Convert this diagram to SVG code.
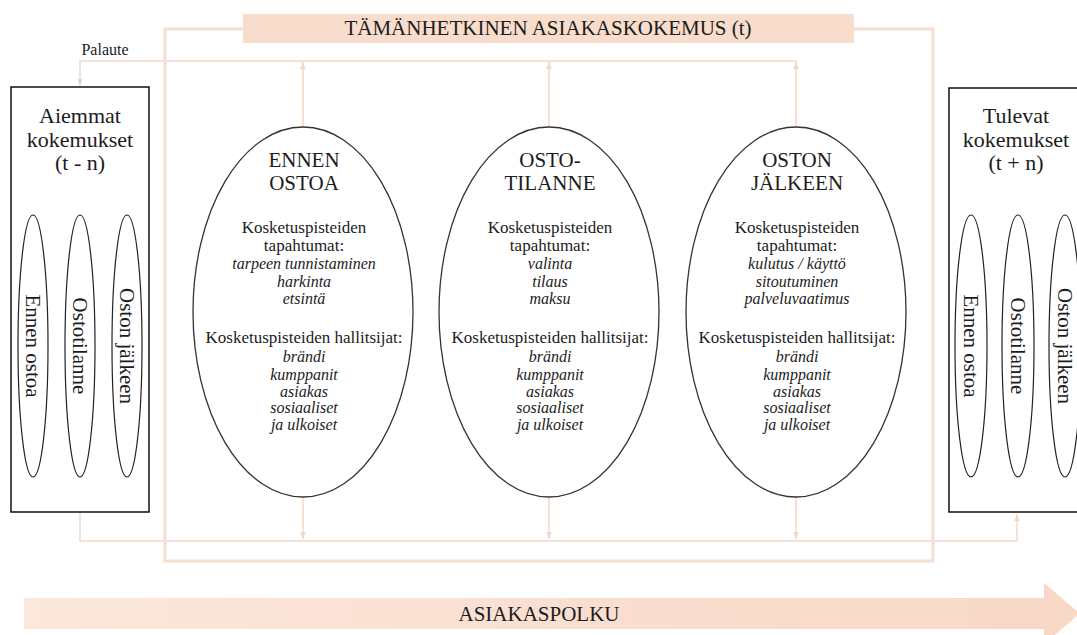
<svg xmlns="http://www.w3.org/2000/svg" width="1077" height="635" viewBox="0 0 1077 635">
  <style>
    text { font-family: "Liberation Serif", "Times New Roman", serif; fill: #1c1c1c; }
    .banner-t { font-size: 21px; text-anchor: middle; }
    .box-t { font-size: 22px; text-anchor: middle; }
    .phase { font-size: 21px; text-anchor: middle; }
    .lbl { font-size: 17px; text-anchor: middle; }
    .it { font-size: 16px; font-style: italic; text-anchor: middle; }
    .vert { font-size: 21px; text-anchor: middle; }
    .small { font-size: 16px; text-anchor: middle; }
    .big-ell { fill: #ffffff; stroke: #333333; stroke-width: 1.3; }
    .small-ell { fill: none; stroke: #222222; stroke-width: 1.2; }
    .box { fill: #ffffff; stroke: #111111; stroke-width: 1.5; }
    .frame { fill: none; stroke: #f6dfd0; stroke-width: 3; }
    .conn { fill: none; stroke: #f3e2d5; stroke-width: 2; }
    .band { fill: #f8dccc; }
  </style>
  <defs>
    <marker id="ah" viewBox="0 0 10 10" refX="10" refY="5" markerWidth="7" markerHeight="7" markerUnits="userSpaceOnUse" orient="auto">
      <path d="M0,1 L10,5 L0,9 z" fill="#efd8c8"/>
    </marker>
    <linearGradient id="pathGrad" x1="0" y1="0" x2="1" y2="0">
      <stop offset="0" stop-color="#fbe7dc"/>
      <stop offset="1" stop-color="#f8d8c6"/>
    </linearGradient>
  </defs>

  <!-- customer path arrow along the bottom -->
  <g id="path-arrow">
    <path d="M24,598 H1044 V583 L1080,613.5 L1044,644 V629 H24 Z" fill="url(#pathGrad)"/>
    <text class="banner-t" x="539" y="621">ASIAKASPOLKU</text>
  </g>

  <!-- current-experience frame and its banner -->
  <g id="current-experience">
    <path class="frame" d="M243,29 H165 V561 H933 V29 H854"/>
    <rect class="band" x="243" y="14" width="611" height="29"/>
    <text class="banner-t" x="548" y="35">TÄMÄNHETKINEN ASIAKASKOKEMUS (t)</text>
  </g>

  <!-- connectors: feedback loop on top, flow to future experiences below -->
  <g id="connectors">
    <path class="conn" d="M797,61 H80 V86" marker-end="url(#ah)"/>
    <path class="conn" d="M303,127 V62" marker-end="url(#ah)"/>
    <path class="conn" d="M549,127 V62" marker-end="url(#ah)"/>
    <path class="conn" d="M796,127 V62" marker-end="url(#ah)"/>
    <path class="conn" d="M303,497 V539" marker-end="url(#ah)"/>
    <path class="conn" d="M549,497 V539" marker-end="url(#ah)"/>
    <path class="conn" d="M796,497 V539" marker-end="url(#ah)"/>
    <path class="conn" d="M80,513 V541 H1017 V514" marker-end="url(#ah)"/>
    <text class="small" x="105" y="55">Palaute</text>
  </g>

  <!-- previous experiences -->
  <g id="previous-experiences">
    <rect class="box" x="11" y="87" width="138" height="425"/>
    <text class="box-t" x="80" y="123">Aiemmat</text>
    <text class="box-t" x="80" y="147">kokemukset</text>
    <text class="box-t" x="80" y="170">(t - n)</text>
    <ellipse class="small-ell" cx="33" cy="346" rx="15" ry="131"/>
    <ellipse class="small-ell" cx="80" cy="346" rx="15" ry="131"/>
    <ellipse class="small-ell" cx="127" cy="346" rx="15" ry="131"/>
    <text class="vert" transform="translate(33,346) rotate(90)" y="7">Ennen ostoa</text>
    <text class="vert" transform="translate(80,346) rotate(90)" y="7">Ostotilanne</text>
    <text class="vert" transform="translate(127,346) rotate(90)" y="7">Oston jälkeen</text>
  </g>

  <!-- before purchase -->
  <g id="before-purchase">
    <ellipse class="big-ell" cx="303" cy="312" rx="110" ry="185"/>
    <text class="phase" x="304" y="167">ENNEN</text>
    <text class="phase" x="304" y="190">OSTOA</text>
    <text class="lbl" x="304" y="233">Kosketuspisteiden</text>
    <text class="lbl" x="304" y="251">tapahtumat:</text>
    <text class="it" x="304" y="269">tarpeen tunnistaminen</text>
    <text class="it" x="304" y="287">harkinta</text>
    <text class="it" x="304" y="304">etsintä</text>
    <text class="lbl" x="304" y="343">Kosketuspisteiden hallitsijat:</text>
    <text class="it" x="304" y="362">brändi</text>
    <text class="it" x="304" y="380">kumppanit</text>
    <text class="it" x="304" y="397">asiakas</text>
    <text class="it" x="304" y="413">sosiaaliset</text>
    <text class="it" x="304" y="430">ja ulkoiset</text>
  </g>

  <!-- purchase situation -->
  <g id="purchase-situation">
    <ellipse class="big-ell" cx="549" cy="312" rx="110" ry="185"/>
    <text class="phase" x="550" y="167">OSTO-</text>
    <text class="phase" x="550" y="190">TILANNE</text>
    <text class="lbl" x="550" y="233">Kosketuspisteiden</text>
    <text class="lbl" x="550" y="251">tapahtumat:</text>
    <text class="it" x="550" y="269">valinta</text>
    <text class="it" x="550" y="287">tilaus</text>
    <text class="it" x="550" y="304">maksu</text>
    <text class="lbl" x="550" y="343">Kosketuspisteiden hallitsijat:</text>
    <text class="it" x="550" y="362">brändi</text>
    <text class="it" x="550" y="380">kumppanit</text>
    <text class="it" x="550" y="397">asiakas</text>
    <text class="it" x="550" y="413">sosiaaliset</text>
    <text class="it" x="550" y="430">ja ulkoiset</text>
  </g>

  <!-- after purchase -->
  <g id="after-purchase">
    <ellipse class="big-ell" cx="796" cy="312" rx="110" ry="185"/>
    <text class="phase" x="797" y="167">OSTON</text>
    <text class="phase" x="797" y="190">JÄLKEEN</text>
    <text class="lbl" x="797" y="233">Kosketuspisteiden</text>
    <text class="lbl" x="797" y="251">tapahtumat:</text>
    <text class="it" x="797" y="269">kulutus / käyttö</text>
    <text class="it" x="797" y="287">sitoutuminen</text>
    <text class="it" x="797" y="304">palveluvaatimus</text>
    <text class="lbl" x="797" y="343">Kosketuspisteiden hallitsijat:</text>
    <text class="it" x="797" y="362">brändi</text>
    <text class="it" x="797" y="380">kumppanit</text>
    <text class="it" x="797" y="397">asiakas</text>
    <text class="it" x="797" y="413">sosiaaliset</text>
    <text class="it" x="797" y="430">ja ulkoiset</text>
  </g>

  <!-- future experiences -->
  <g id="future-experiences">
    <rect class="box" x="949" y="88" width="140" height="424"/>
    <text class="box-t" x="1016" y="123">Tulevat</text>
    <text class="box-t" x="1016" y="147">kokemukset</text>
    <text class="box-t" x="1016" y="170">(t + n)</text>
    <ellipse class="small-ell" cx="971" cy="346" rx="16" ry="131"/>
    <ellipse class="small-ell" cx="1018" cy="346" rx="16" ry="131"/>
    <ellipse class="small-ell" cx="1065" cy="346" rx="16" ry="131"/>
    <text class="vert" transform="translate(971,346) rotate(90)" y="7">Ennen ostoa</text>
    <text class="vert" transform="translate(1018,346) rotate(90)" y="7">Ostotilanne</text>
    <text class="vert" transform="translate(1065,346) rotate(90)" y="7">Oston jälkeen</text>
  </g>
</svg>
